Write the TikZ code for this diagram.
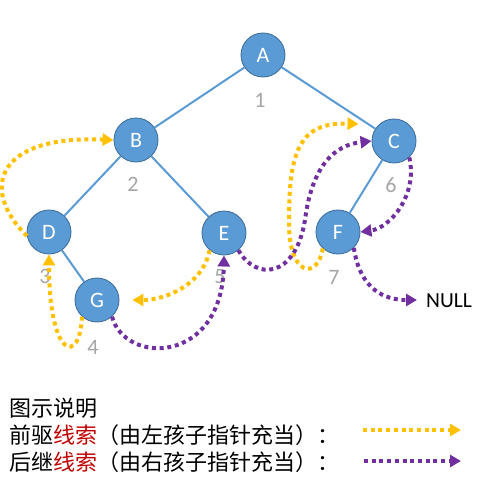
\documentclass[tikz,border=0pt]{standalone}
\usepackage{fontspec}
\setmainfont{Carlito}
\newfontfamily\cjk{Noto Sans CJK SC}
\usetikzlibrary{arrows.meta}
\definecolor{nodefill}{HTML}{5B9BD5}
\definecolor{nodeedge}{HTML}{41719C}
\definecolor{numgray}{HTML}{A6A6A6}
\definecolor{predcol}{HTML}{FFC000}
\definecolor{succcol}{HTML}{7030A0}
\definecolor{redtxt}{HTML}{C00000}
\tikzset{
  treenode/.style={circle, fill=nodefill, draw=nodeedge, line width=0.9pt,
    minimum size=44pt, inner sep=0pt, text=white, font=\fontsize{22}{22}\selectfont},
  treeedge/.style={draw=nodefill, line width=2pt},
  numlbl/.style={text=numgray, font=\fontsize{22}{22}\selectfont, inner sep=0pt},
  thread/.style={line width=4pt, dash pattern=on 4pt off 3.7pt,
    -{Triangle[length=11pt,width=12pt]}},
  predline/.style={thread, draw=predcol, color=predcol},
  succline/.style={thread, draw=succcol, color=succcol},
  legendtxt/.style={anchor=base west, inner sep=0pt, font=\cjk\fontsize{22}{22}\selectfont, text=black}
}
\begin{document}
\begin{tikzpicture}[x=1pt,y=-1pt]
\useasboundingbox[fill=white] (0,0) rectangle (487,482);
% nodes
\node[treenode] (A) at (263,55) {A};
\node[treenode] (B) at (136,140) {B};
\node[treenode] (C) at (394,141) {C};
\node[treenode] (D) at (49,232) {D};
\node[treenode] (E) at (224,233) {E};
\node[treenode] (F) at (338,232) {F};
\node[treenode] (G) at (97,300) {G};
% tree edges
\draw[treeedge] (A) -- (B);
\draw[treeedge] (A) -- (C);
\draw[treeedge] (B) -- (D);
\draw[treeedge] (B) -- (E);
\draw[treeedge] (D) -- (G);
\draw[treeedge] (C) -- (F);
% numbers
\node[numlbl] (n1) at (260,100) {1};
\node[numlbl] (n2) at (133,184) {2};
\node[numlbl] (n3) at (45,276) {3};
\node[numlbl] (n4) at (93,347) {4};
\node[numlbl] (n5) at (220,277) {5};
\node[numlbl] (n6) at (391,185) {6};
\node[numlbl] (n7) at (334,277) {7};
% NULL
\node[anchor=west, inner sep=0pt, font=\fontsize{21.5}{21.5}\selectfont] (NULL) at (426,301) {NULL};
% predecessor threads (yellow)
\draw[predline] (D.190) .. controls (-20,190) and (-5,135) .. (B.west);
\draw[predline] (G.228) .. controls (80,365) and (49,360) .. (D.south);
\draw[predline] (E.230) .. controls (203,285) and (165,300) .. ([xshift=13pt]G.east);
\draw[predline] (F.227) .. controls (318,280) and (288,278) .. (289,220)
   .. controls (289,150) and (300,122) .. ([xshift=-13pt,yshift=17pt]C.west);
% successor threads (purple)
\draw[succline] (G.312) .. controls (125,365) and (222,365) .. (E.south);
\draw[succline] (E.310) .. controls (255,280) and (295,280) .. (305,220)
   .. controls (312,165) and (335,145) .. (C.west);
\draw[succline] (C.313) .. controls (418,195) and (390,228) .. (F.east);
\draw[succline] (F.315) .. controls (360,290) and (385,300) .. ([xshift=-9pt,yshift=1pt]NULL.west);
% legend
\node[legendtxt] (L1) at (9,416) {图示说明};
\node[legendtxt] (L2) at (9,443) {前驱{\color{redtxt}线索}（由左孩子指针充当）：};
\node[legendtxt] (L3) at (9,470) {后继{\color{redtxt}线索}（由右孩子指针充当）：};
\coordinate (p1) at (363,430);
\coordinate (p2) at (461,430);
\coordinate (s1) at (364,461);
\coordinate (s2) at (461,461);
\draw[predline] (p1) -- (p2);
\draw[succline] (s1) -- (s2);
\end{tikzpicture}
\end{document}
